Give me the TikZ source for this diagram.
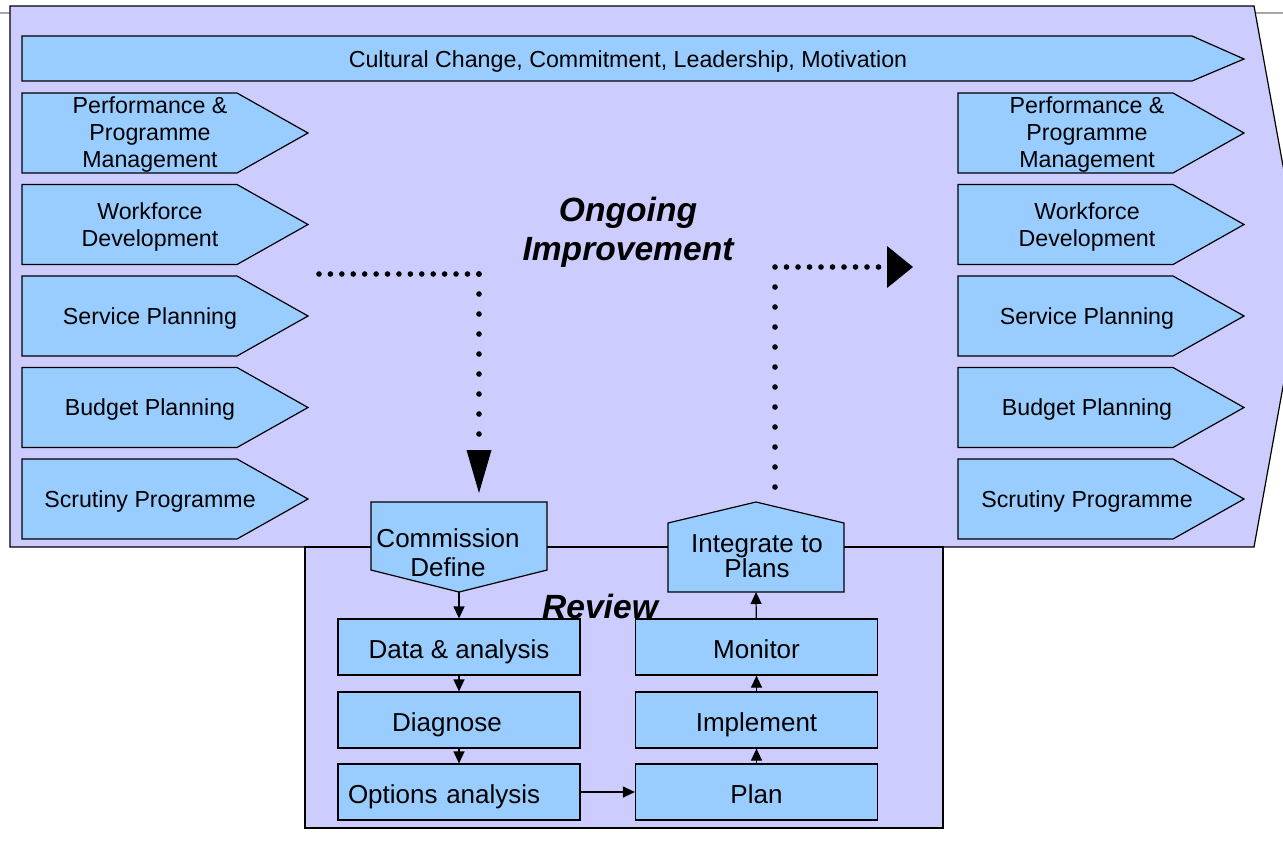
\documentclass[tikz,border=0pt]{standalone}
\usepackage{fontspec}
\setmainfont{Liberation Sans}
\usetikzlibrary{arrows.meta}

\definecolor{lavender}{HTML}{CCCCFF}
\definecolor{skyblue}{HTML}{99CCFF}

\begin{document}
\begin{tikzpicture}[x=0.5pt,y=-0.5pt,
    bluebox/.style={draw=black, fill=skyblue, line width=0.6pt},
    txt/.style={align=center, inner sep=0pt, yshift=-1pt, font=\fontsize{11.6}{13.5}\selectfont},
    stepbox/.style={bluebox, minimum width=121pt, minimum height=28pt, inner sep=0pt,
        text height=11.5pt, text depth=0pt, font=\fontsize{13}{15}\selectfont},
    headline/.style={align=center, inner sep=0pt, yshift=-1.5pt, font=\fontsize{16.8}{19.5}\selectfont\bfseries\itshape},
    flow/.style={-{Triangle[length=6pt,width=5.5pt]}, line width=0.6pt},
    dots/.style={line width=2.8pt, line cap=round}]
    \useasboundingbox (0,0) rectangle (1283,841);
    \clip (0,0) rectangle (1283,841);

    % slide edge
    \draw[gray!70, line width=0.6pt] (0,13) -- (10,13);
    \draw[gray!70, line width=0.6pt] (1256,13) -- (1283,13);

    % big arrow and review panel
    \draw[fill=lavender, line width=0.6pt] (10,6) -- (1254,6) -- (1303,276) -- (1254,547) -- (10,547) -- cycle;
    \draw[fill=lavender, line width=0.6pt] (305,547) rectangle (943,828);

    % top banner
    \draw[bluebox] (22,36) -- (1192,36) -- (1244,59) -- (1192,81) -- (22,81) -- cycle;
    \node[txt] (culture) at (628,59) {Cultural Change, Commitment, Leadership, Motivation};

    % chevrons, left and right
    \foreach \y/\nm/\txt in {133/perf/{Performance \&\\Programme\\Management},
                             224.5/work/{Workforce\\Development},
                             316/serv/{Service Planning},
                             407.5/budg/{Budget Planning},
                             499/scru/{Scrutiny Programme}}{
        \draw[bluebox] (22,\y-40) -- (237,\y-40) -- (308,\y) -- (237,\y+40) -- (22,\y+40) -- cycle;
        \node[txt] (left-\nm) at (150,\y) {\txt};
        \draw[bluebox] (958,\y-40) -- (1173,\y-40) -- (1244,\y) -- (1173,\y+40) -- (958,\y+40) -- cycle;
        \node[txt] (right-\nm) at (1087,\y) {\txt};
    }

    \node[headline] (ongoing) at (628,229) {Ongoing\\Improvement};
    \node[headline] (review) at (600,603) {Review};

    % in and out of the review
    \draw[bluebox] (371,502) -- (547,502) -- (547,570) -- (459,592) -- (371,570) -- cycle;
    \node[txt, font=\fontsize{13}{14.5}\selectfont] (commission) at (448,551) {Commission\\Define};
    \coordinate (commission-tip) at (459,592);

    \draw[bluebox] (668,592) -- (668,523) -- (756,502) -- (844,523) -- (844,592) -- cycle;
    \node[txt, font=\fontsize{13}{12.5}\selectfont] (integrate) at (757,554) {Integrate to\\Plans};
    \coordinate (integrate-base) at (756,592);

    % review steps
    \node[stepbox] (data) at (459,647) {Data \& analysis};
    \node[stepbox] (diagnose) at (459,720) {Diagnose\kern12pt};
    \node[stepbox, text width=111pt, align=left, inner xsep=5pt] (options) at (459,792) {Options analysis};
    \node[stepbox] (monitor) at (756.5,647) {Monitor};
    \node[stepbox] (implement) at (756.5,720) {Implement};
    \node[stepbox] (plan) at (756.5,792) {Plan};

    \draw[flow] (commission-tip) -- (data);
    \draw[flow] (data) -- (diagnose);
    \draw[flow] (diagnose) -- (options);
    \draw[flow] (options) -- (plan);
    \draw[flow] (plan) -- (implement);
    \draw[flow] (implement) -- (monitor);
    \draw[flow] (monitor) -- (integrate-base);

    % dotted paths
    \coordinate (in-start) at (319,274);
    \coordinate (in-corner) at (479,274);
    \coordinate (in-end) at (479,493);
    \draw[dots, dash pattern=on 0pt off 5.71pt] (in-start) -- (in-corner);
    \draw[dots, dash pattern=on 0pt off 10pt,
        -{Triangle[length=21.5pt,width=12.5pt,line width=0pt]}] (in-corner) -- (in-end);

    \coordinate (out-start) at (775,487);
    \coordinate (out-corner) at (775,267);
    \coordinate (out-end) at (913,267);
    \draw[dots, dash pattern=on 0pt off 10pt] (out-start) -- (out-corner);
    \draw[dots, dash pattern=on 0pt off 5.75pt,
        -{Triangle[length=13pt,width=21pt,line width=0pt]}] (out-corner) -- (out-end);
\end{tikzpicture}
\end{document}
